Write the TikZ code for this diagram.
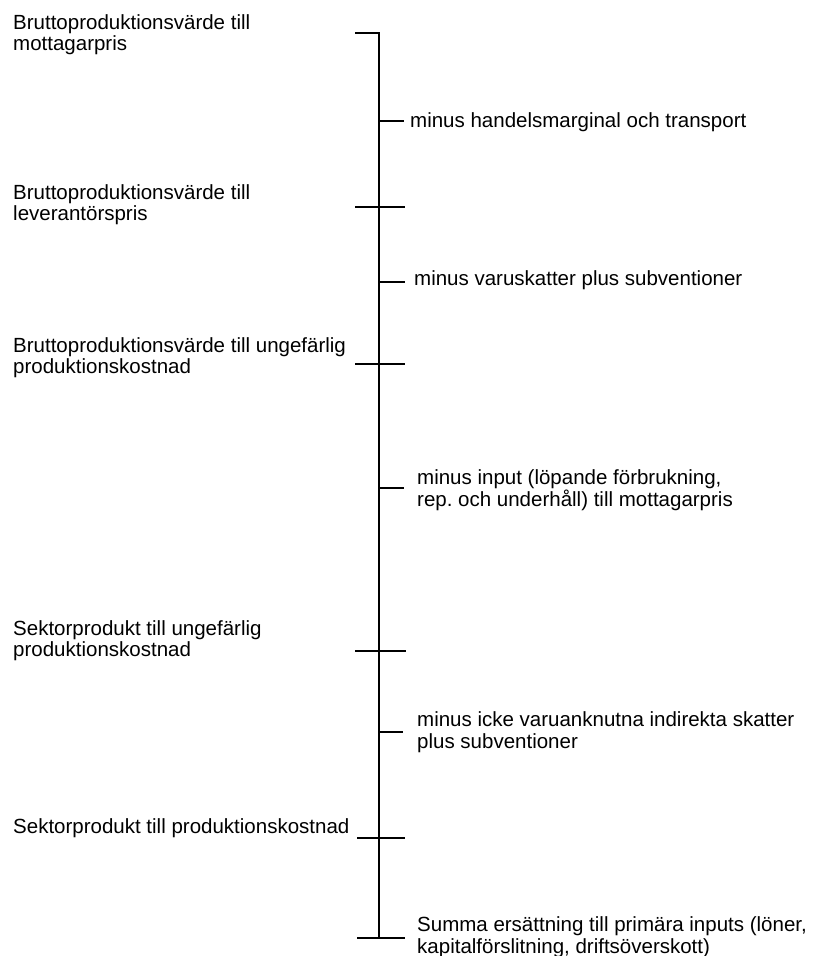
\documentclass[tikz,border=0pt]{standalone}
\usepackage{fontspec}
\setmainfont{Liberation Sans}
\frenchspacing
\begin{document}
\begin{tikzpicture}[x=1pt,y=-1pt,
  lbl/.style={anchor=base west,inner sep=0pt,align=left,font=\fontsize{20.5}{21.5}\selectfont},
  rule/.style={line width=1.3pt}]
\useasboundingbox (0,0) rectangle (812,956);
% scale ticks
\coordinate (top) at (379,33);
\coordinate (bot) at (379,938);
\coordinate (t0l) at (355,33);
\coordinate (r1a) at (379,121); \coordinate (r1b) at (404,121);
\coordinate (b2a) at (355,207); \coordinate (b2b) at (405,207);
\coordinate (r3a) at (379,282); \coordinate (r3b) at (405,282);
\coordinate (b4a) at (355,364); \coordinate (b4b) at (405,364);
\coordinate (r5a) at (379,488); \coordinate (r5b) at (404,488);
\coordinate (b6a) at (355,651); \coordinate (b6b) at (406,651);
\coordinate (r7a) at (379,732); \coordinate (r7b) at (403,732);
\coordinate (b8a) at (357,838); \coordinate (b8b) at (405,838);
\coordinate (b9a) at (357,938); \coordinate (b9b) at (405,938);
\draw[rule] (t0l) -- (top) -- (bot);
\draw[rule] (r1a) -- (r1b);
\draw[rule] (b2a) -- (b2b);
\draw[rule] (r3a) -- (r3b);
\draw[rule] (b4a) -- (b4b);
\draw[rule] (r5a) -- (r5b);
\draw[rule] (b6a) -- (b6b);
\draw[rule] (r7a) -- (r7b);
\draw[rule] (b8a) -- (b8b);
\draw[rule] (b9a) -- (b9b);
% left labels (base = baseline of last line)
\node[lbl] (l1) at (13,50.5) {Bruttoproduktionsvärde till\\mottagarpris};
\node[lbl] (l2) at (13,220.5) {Bruttoproduktionsvärde till\\leverantörspris};
\node[lbl] (l3) at (13,373.5) {Bruttoproduktionsvärde till ungefärlig\\produktionskostnad};
\node[lbl] (l4) at (13,656.5) {Sektorprodukt till ungefärlig\\produktionskostnad};
\node[lbl] (l5) at (13,833) {Sektorprodukt till produktionskostnad};
% right labels
\node[lbl] (m1) at (410,127) {minus handelsmarginal och transport};
\node[lbl] (m2) at (414,285) {minus varuskatter plus subventioner};
\node[lbl] (m3) at (417,506) {minus input (löpande förbrukning,\\rep. och underhåll) till mottagarpris};
\node[lbl] (m4) at (417,748) {minus icke varuanknutna indirekta skatter\\plus subventioner};
\node[lbl] (m5) at (417,953) {Summa ersättning till primära inputs (löner,\\kapitalförslitning, driftsöverskott)};
\end{tikzpicture}
\end{document}
